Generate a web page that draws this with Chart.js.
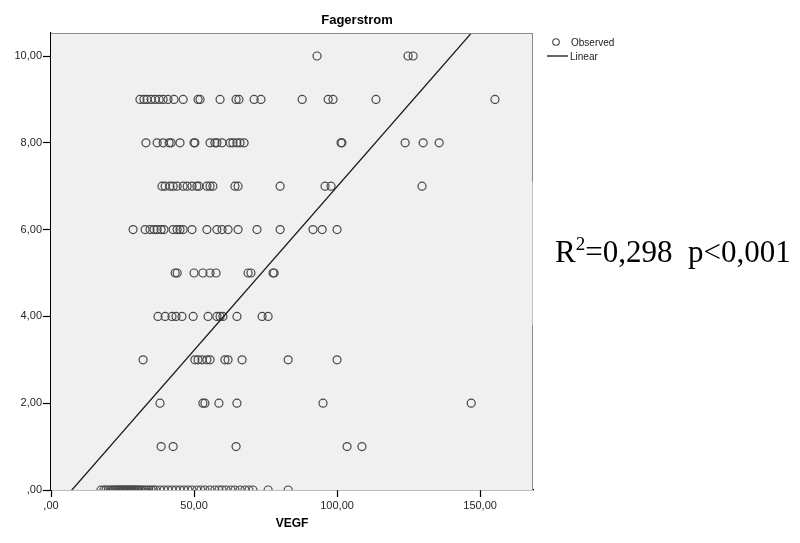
<!DOCTYPE html>
<html>
<head>
<meta charset="utf-8">
<title>Fagerstrom vs VEGF</title>
<script src="https://cdn.jsdelivr.net/npm/chart.js@4/dist/chart.umd.min.js"></script>
<style>
  html, body { margin: 0; padding: 0; background: #ffffff; }
  #wrap { position: relative; width: 800px; height: 543px; }
</style>
</head>
<body>
<div id="wrap"><canvas id="chart" width="800" height="543"></canvas></div>
<script>
// VEGF values of the observed cases, grouped by Fagerstrom score
const vegfScore0 = [17.5, 18.5, 19.2, 20.0, 20.8, 21.5, 22.0, 22.6, 23.1, 23.6, 24.0, 24.5, 25.0, 25.4, 25.8,
  26.2, 26.7, 27.1, 27.5, 28.0, 28.4, 28.9, 29.3, 29.8, 30.3, 30.8, 31.4, 32.0, 32.7, 33.4, 34.2, 35.0, 35.8,
  36.6, 38.1, 39.5, 40.9, 42.3, 43.7, 45.1, 46.5, 47.9, 49.3, 51.0, 52.4, 53.8, 55.6, 57.3, 58.7, 59.8, 61.2,
  62.9, 64.3, 66.1, 67.8, 69.2, 70.6, 75.9, 82.9];
const vegfScore1 = [38.5, 42.7, 64.7, 103.5, 108.7];
const vegfScore2 = [38.1, 53.1, 53.8, 58.7, 65.0, 95.1, 146.9];
const vegfScore3 = [32.2, 50.3, 51.4, 52.8, 54.5, 55.6, 60.8, 61.9, 66.8, 82.9, 100.0];
const vegfScore4 = [37.4, 39.9, 42.3, 43.7, 45.8, 49.7, 54.9, 58.0, 59.1, 60.1, 65.0, 73.8, 75.9];
const vegfScore5 = [43.4, 44.1, 50.0, 53.1, 55.6, 57.7, 68.9, 69.9, 77.6, 78.0];
const vegfScore6 = [28.7, 32.9, 34.6, 36.0, 37.1, 38.5, 39.5, 42.7, 44.1, 45.1, 46.2, 49.3, 54.5, 58.0, 59.8,
  61.9, 65.4, 72.0, 80.1, 91.6, 94.8, 100.0];
const vegfScore7 = [38.8, 39.9, 41.6, 42.7, 44.1, 46.2, 47.6, 49.3, 51.0, 51.7, 54.5, 55.6, 56.6, 64.3, 65.4,
  80.1, 95.8, 97.9, 129.7];
const vegfScore8 = [33.2, 37.1, 39.2, 41.3, 42.0, 45.1, 50.0, 50.3, 55.6, 57.3, 58.0, 59.8, 62.6, 63.6, 65.0,
  66.1, 67.5, 101.4, 101.7, 123.8, 130.1, 135.7];
const vegfScore9 = [31.1, 32.5, 33.6, 35.0, 36.4, 37.8, 39.2, 40.9, 43.0, 46.2, 51.4, 52.1, 59.1, 64.7, 65.7,
  71.0, 73.4, 87.8, 96.9, 98.6, 113.6, 155.2];
const vegfScore10 = [93.0, 124.8, 126.6];

const fagerstromScores = [0, 1, 2, 3, 4, 5, 6, 7, 8, 9, 10];
const vegfByScore = [vegfScore0, vegfScore1, vegfScore2, vegfScore3, vegfScore4, vegfScore5,
  vegfScore6, vegfScore7, vegfScore8, vegfScore9, vegfScore10];

// Linear fit: Fagerstrom = intercept + slope * VEGF
const fitIntercept = -0.551;
const fitSlope = 0.0754;

// Axis ranges and tick labels
const xRange = [0, 168.5];
const yRange = [0, 10.53];
const xTickValues = [0, 50, 100, 150];
const xTickLabels = [',00', '50,00', '100,00', '150,00'];
const yTickValues = [0, 2, 4, 6, 8, 10];
const yTickLabels = [',00', '2,00', '4,00', '6,00', '8,00', '10,00'];

const chartTitle = 'Fagerstrom';
const xTitle = 'VEGF';
const legendLabels = ['Observed', 'Linear'];
const statsText = { r2: '0,298', p: 'p<0,001' };

const observedPoints = [];
fagerstromScores.forEach((score, i) => {
  vegfByScore[i].forEach(v => observedPoints.push({ x: v, y: score }));
});
const fitPoints = xRange.map(x => ({ x: x, y: fitIntercept + fitSlope * x }));

const SANS = '"Liberation Sans", Arial, sans-serif';
const SERIF = '"Liberation Serif", "Times New Roman", serif';

const decor = {
  id: 'decor',
  beforeDatasetsDraw(chart) {
    const { ctx, chartArea: a } = chart;
    ctx.save();
    ctx.fillStyle = '#f0f0f0';
    ctx.fillRect(a.left, a.top, a.right - a.left, a.bottom - a.top);
    ctx.restore();
  },
  afterDraw(chart) {
    const { ctx, chartArea: a } = chart;
    ctx.save();
    // frame: top and right edges
    ctx.lineWidth = 1;
    ctx.strokeStyle = '#8c8c8c';
    ctx.beginPath();
    ctx.moveTo(a.left, a.top + 0.5);
    ctx.lineTo(a.right, a.top + 0.5);
    ctx.stroke();
    ctx.beginPath();
    ctx.moveTo(a.right - 0.5, a.top);
    ctx.lineTo(a.right - 0.5, 182);
    ctx.moveTo(a.right - 0.5, 325);
    ctx.lineTo(a.right - 0.5, a.bottom);
    ctx.stroke();
    ctx.strokeStyle = '#c4c4c4';
    ctx.beginPath();
    ctx.moveTo(a.right - 0.5, 182);
    ctx.lineTo(a.right - 0.5, 325);
    ctx.stroke();

    // title
    ctx.fillStyle = '#000';
    ctx.font = 'bold 13px ' + SANS;
    ctx.textAlign = 'center';
    ctx.textBaseline = 'middle';
    ctx.fillText(chartTitle, 357, 20);

    // x axis title
    ctx.font = 'bold 12px ' + SANS;
    ctx.fillText(xTitle, (a.left + a.right) / 2, 524);

    // legend
    ctx.font = '10px ' + SANS;
    ctx.textAlign = 'left';
    ctx.fillStyle = '#1a1a1a';
    ctx.strokeStyle = '#444';
    ctx.lineWidth = 1.1;
    ctx.beginPath();
    ctx.arc(556, 42, 3.3, 0, Math.PI * 2);
    ctx.stroke();
    ctx.fillText(legendLabels[0], 571, 43);
    ctx.strokeStyle = '#000';
    ctx.lineWidth = 1.2;
    ctx.beginPath();
    ctx.moveTo(547, 56);
    ctx.lineTo(568, 56);
    ctx.stroke();
    ctx.fillText(legendLabels[1], 570, 57);

    // fit statistics
    ctx.fillStyle = '#000';
    ctx.textBaseline = 'alphabetic';
    const baseY = 262;
    let x = 555;
    ctx.font = '31px ' + SERIF;
    ctx.fillText('R', x, baseY);
    x += ctx.measureText('R').width;
    ctx.font = '19px ' + SERIF;
    ctx.fillText('2', x, baseY - 12);
    x += ctx.measureText('2').width;
    ctx.font = '31px ' + SERIF;
    const rest = '=' + statsText.r2 + '\u00a0\u00a0' + statsText.p;
    ctx.fillText(rest, x, baseY);
    ctx.restore();
  }
};

new Chart(document.getElementById('chart'), {
  type: 'scatter',
  data: {
    datasets: [
      {
        label: legendLabels[0],
        data: observedPoints,
        pointStyle: 'circle',
        pointRadius: 4,
        pointHoverRadius: 4,
        pointBorderWidth: 1.2,
        pointBorderColor: '#474747',
        pointBackgroundColor: 'rgba(0,0,0,0)',
        showLine: false,
        clip: 0,
        order: 2
      },
      {
        type: 'line',
        label: legendLabels[1],
        data: fitPoints,
        borderColor: '#1a1a1a',
        borderWidth: 1.3,
        pointRadius: 0,
        fill: false,
        tension: 0,
        clip: 0,
        order: 1
      }
    ]
  },
  options: {
    responsive: false,
    animation: false,
    events: [],
    layout: { padding: { top: 33, right: 267, left: 0, bottom: 0 } },
    plugins: {
      legend: { display: false },
      title: { display: false },
      tooltip: { enabled: false }
    },
    scales: {
      x: {
        type: 'linear',
        min: xRange[0],
        max: xRange[1],
        afterBuildTicks(scale) {
          scale.ticks = xTickValues.map(v => ({ value: v }));
        },
        afterFit(scale) { scale.height = 53; },
        ticks: {
          callback(value) {
            const i = xTickValues.indexOf(value);
            return i >= 0 ? xTickLabels[i] : '';
          },
          font: { family: SANS, size: 11 },
          color: '#262626',
          padding: 2,
          maxRotation: 0,
          autoSkip: false
        },
        grid: {
          drawOnChartArea: false,
          drawTicks: true,
          tickLength: 7,
          tickWidth: 1.2,
          tickColor: '#000'
        },
        border: { display: true, color: '#000', width: 1.2 }
      },
      y: {
        type: 'linear',
        min: yRange[0],
        max: yRange[1],
        afterBuildTicks(scale) {
          scale.ticks = yTickValues.map(v => ({ value: v }));
        },
        afterFit(scale) { scale.width = 51; },
        ticks: {
          callback(value) {
            const i = yTickValues.indexOf(value);
            return i >= 0 ? yTickLabels[i] : '';
          },
          font: { family: SANS, size: 11 },
          color: '#262626',
          padding: 1,
          autoSkip: false
        },
        grid: {
          drawOnChartArea: false,
          drawTicks: true,
          tickLength: 8,
          tickWidth: 1.2,
          tickColor: '#000'
        },
        border: { display: true, color: '#000', width: 1.2 }
      }
    }
  },
  plugins: [decor]
});
</script>
</body>
</html>
